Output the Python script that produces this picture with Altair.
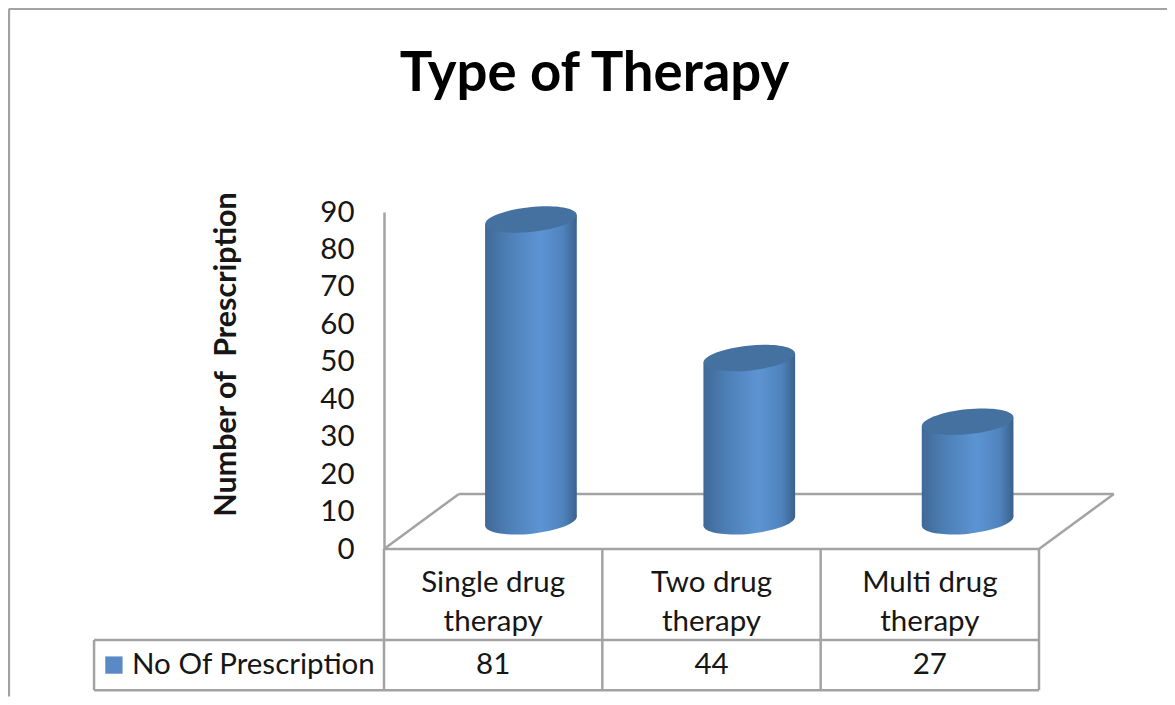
import altair as alt
import pandas as pd

# chart values
categories = ["Single drug therapy", "Two drug therapy", "Multi drug therapy"]
line_one = ["Single drug", "Two drug", "Multi drug"]
line_two = ["therapy", "therapy", "therapy"]
values = [81, 44, 27]
tick_values = [0, 10, 20, 30, 40, 50, 60, 70, 80, 90]
series_name = "No Of Prescription"

# 3-D look, in axis units (x: one unit per category, y: axis value)
DEPTH_X, DEPTH_Y = 0.343, 14.7
SHIFT, HALF = 0.173, 0.21
FLOOR, BASE, TILT = 7.0, 7.4, 1.2
ROW_1, ROW_2, ROW_3 = -9.2, -19.4, -31.0
TABLE_MID, TABLE_BOTTOM = -24.3, -37.7
LEG_LEFT = -1.328

GREY = "#a3a3a3"
INK = "#161616"
FONT = "Lato"
TEXT_SIZE = 29.5

body_rows, top_rows, cat_rows = [], [], []
for i, (c, v) in enumerate(zip(categories, values)):
    cx = i + 0.5 + SHIFT
    body_rows.append(dict(c=c, x=cx - HALF, y=v + FLOOR - TILT, y2=BASE - TILT))
    body_rows.append(dict(c=c, x=cx + HALF, y=v + FLOOR + TILT, y2=BASE + TILT))
    top_rows.append(dict(c=c, x=cx, top=v + FLOOR, base=BASE))
    cat_rows.append(dict(x=i + 0.5, a=line_one[i], b=line_two[i], v=str(v)))
body = pd.DataFrame(body_rows)
tops = pd.DataFrame(top_rows)
cats = pd.DataFrame(cat_rows)

segments = pd.DataFrame([
    dict(x=0, x2=3, y=0, y2=0),
    dict(x=0, x2=DEPTH_X, y=0, y2=DEPTH_Y),
    dict(x=DEPTH_X, x2=3 + DEPTH_X, y=DEPTH_Y, y2=DEPTH_Y),
    dict(x=3, x2=3 + DEPTH_X, y=0, y2=DEPTH_Y),
    dict(x=0, x2=0, y=0, y2=TABLE_BOTTOM),
    dict(x=1, x2=1, y=0, y2=TABLE_BOTTOM),
    dict(x=2, x2=2, y=0, y2=TABLE_BOTTOM),
    dict(x=3, x2=3, y=0, y2=TABLE_BOTTOM),
    dict(x=LEG_LEFT, x2=3, y=TABLE_MID, y2=TABLE_MID),
    dict(x=LEG_LEFT, x2=3, y=TABLE_BOTTOM, y2=TABLE_BOTTOM),
    dict(x=LEG_LEFT, x2=LEG_LEFT, y=TABLE_MID, y2=TABLE_BOTTOM),
    dict(x=-1.718, x2=3.62, y=144.3, y2=144.3),
    dict(x=-1.718, x2=-1.718, y=144.3, y2=-39.4),
])

xs = alt.Scale(domain=[0, 3], nice=False, zero=False)
ys = alt.Scale(domain=[0, 90], nice=False, zero=False)
y_axis = alt.Axis(
    title="Number of\u00a0\u00a0Prescription", values=tick_values,
    grid=False, ticks=False, domainColor=GREY, domainWidth=2.5,
    labelOverlap=False, labelFlush=False,
    labelFont=FONT, labelFontSize=TEXT_SIZE, labelColor=INK, labelPadding=30,
    titleFont=FONT, titleFontSize=30.5, titleFontWeight="bold", titleColor=INK,
    titleAngle=270, titleX=-158, titleY=142, titleAlign="center",
    titleBaseline="middle",
)
X = alt.X("x:Q", scale=xs, axis=None)
Y = alt.Y("y:Q", scale=ys, axis=y_axis)

side = alt.Gradient(
    gradient="linear", x1=0, x2=1, y1=0, y2=0,
    stops=[
        alt.GradientStop(offset=0, color="#3f6997"),
        alt.GradientStop(offset=0.25, color="#4d7fb6"),
        alt.GradientStop(offset=0.6, color="#5c94d3"),
        alt.GradientStop(offset=0.85, color="#4f83bd"),
        alt.GradientStop(offset=1, color="#3a618d"),
    ],
)
ELLIPSE = "M-1,0 A1,0.27 0 1 1 1,0 A1,0.27 0 1 1 -1,0 Z"

lines = alt.Chart(segments).mark_rule(color=GREY, strokeWidth=2.5).encode(
    x=X, x2="x2:Q", y=Y, y2="y2:Q",
)

bottoms = alt.Chart(tops).mark_point(
    shape=ELLIPSE, size=8464, filled=True, opacity=1, fill=side, strokeWidth=0, angle=354
).encode(x=X, y=alt.Y("base:Q", scale=ys, axis=y_axis))

bodies = alt.Chart(body).mark_area(fill=side).encode(
    x=X, y=Y, y2="y2:Q", detail="c:N"
)

caps = alt.Chart(tops).mark_point(
    shape=ELLIPSE, size=8464, filled=True, opacity=1, fill="#44719f", strokeWidth=0, angle=354
).encode(x=X, y=alt.Y("top:Q", scale=ys, axis=y_axis))

def text_layer(field, row):
    frame = cats.assign(y=row)
    return alt.Chart(frame).mark_text(
        font=FONT, fontSize=TEXT_SIZE, color=INK, align="center", baseline="middle"
    ).encode(x=X, y=Y, text=f"{field}:N")

swatch = alt.Chart(pd.DataFrame({"x": [-1.237], "y": [ROW_3]})).mark_square(
    size=300, color="#5a8ac6", opacity=1
).encode(x=X, y=Y)

legend_label = alt.Chart(pd.DataFrame({"x": [-1.154], "y": [ROW_3], "t": [series_name]})).mark_text(
    font=FONT, fontSize=TEXT_SIZE, color=INK, align="left", baseline="middle"
).encode(x=X, y=Y, text="t:N")

chart = alt.layer(
    lines, bottoms, bodies, caps,
    text_layer("a", ROW_1), text_layer("b", ROW_2), text_layer("v", ROW_3),
    swatch, legend_label,
).properties(
    width=655, height=337,
    padding={"left": 376, "top": 204, "right": 128, "bottom": 148},
    autosize=alt.AutoSizeParams(type="none"),
    title=alt.TitleParams(
        "Type of Therapy", font=FONT, fontSize=54.5, fontWeight="bold", color="#000000",
        anchor="middle", frame="group", dx=-117, offset=-95,
    ),
    background="white",
).configure_view(stroke=None)

chart.save("out.html", embed_options={"renderer": "svg", "actions": False})
